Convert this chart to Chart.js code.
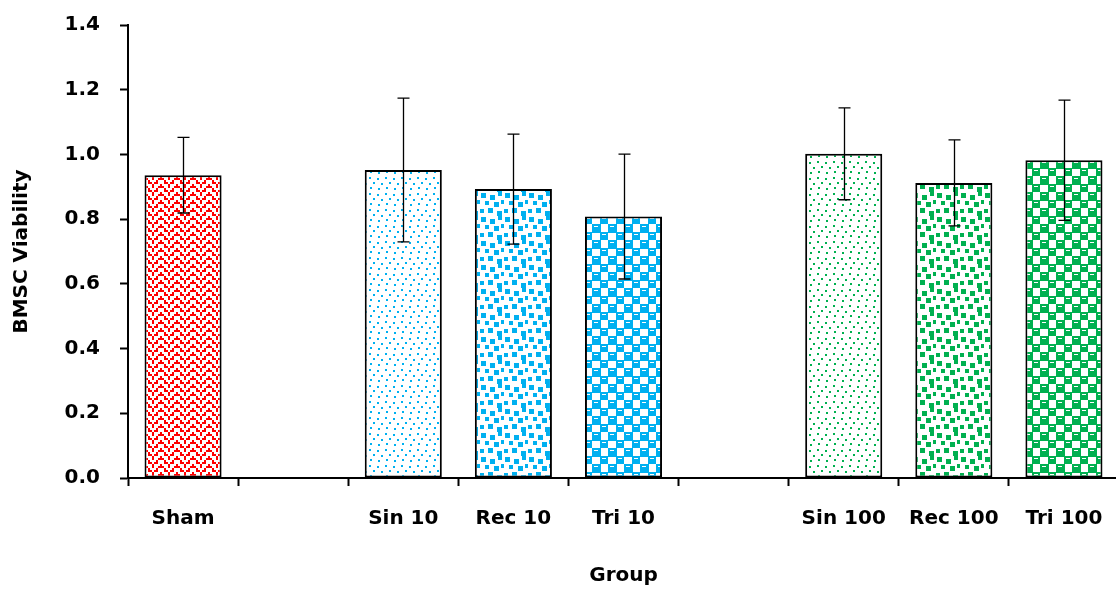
<!DOCTYPE html>
<html>
<head>
<meta charset="utf-8">
<script src="https://cdn.jsdelivr.net/npm/chart.js@4.4.1/dist/chart.umd.min.js"></script>
<style>
  html, body { margin: 0; padding: 0; background: #fff; overflow: hidden; }
  #wrap { width: 1116px; height: 589px; overflow: hidden; }
</style>
</head>
<body>
<div id="wrap"><canvas id="chart" width="1120" height="589"></canvas></div>
<script>
// データ
const categories = ['Sham', '', 'Sin 10', 'Rec 10', 'Tri 10', '', 'Sin 100', 'Rec 100', 'Tri 100'];
const means  = [0.936, null, 0.952, 0.893, 0.808, null, 1.002, 0.912, 0.982];
const errors = [0.117, null, 0.222, 0.170, 0.193, null, 0.142, 0.133, 0.186];
const patternKinds = ['zigzag', null, 'dots', 'squares', 'sphere', null, 'dots', 'squares', 'sphere'];
const patternColors = ['#ff0000', null, '#00b0f0', '#00b0f0', '#00b0f0', null, '#00b050', '#00b050', '#00b050'];
const yMin = 0, yMax = 1.4, yStep = 0.2;

// 塗りつぶしパターンを作る
function makePattern(kind, color) {
    const w = kind === 'squares' ? 24 : 16;
    const h = kind === 'squares' ? 24 : (kind === 'zigzag' ? 8 : 16);
    const tile = document.createElement('canvas');
    tile.width = w; tile.height = h;
    const c = tile.getContext('2d');
    c.fillStyle = '#fff';
    c.fillRect(0, 0, w, h);
    c.fillStyle = color;
    if (kind === 'zigzag') {
        // 2px ブロックのジグザグ線
        for (let by = 0; by < 4; by++) {
            for (let bx = 0; bx < 8; bx++) {
                const k = (by + Math.abs(bx - 4)) % 4;
                if (k === 0 || (k === 1 && bx % 2 === 0)) c.fillRect(bx * 2, by * 2, 2, 2);
            }
        }
    } else if (kind === 'dots') {
        [[1, 1], [9, 2], [5, 6], [13, 7], [2, 11], [10, 12]].forEach(p => c.fillRect(p[0], p[1], 2, 2));
    } else if (kind === 'squares') {
        [[1, 1, 5], [10, 3, 5], [18, 0, 4], [5, 9, 4], [14, 10, 5], [21, 8, 4], [0, 17, 4], [8, 16, 5], [17, 19, 5]]
            .forEach(p => c.fillRect(p[0], p[1], p[2], p[2]));
    } else if (kind === 'sphere') {
        c.fillRect(0, 0, 9, 9);
        c.fillRect(8, 8, 9, 9);
        c.fillStyle = '#fff';
        c.fillRect(2, 2, 4, 1);
        c.fillRect(10, 10, 4, 1);
    }
    return document.getElementById('chart').getContext('2d').createPattern(tile, 'repeat');
}

const fills = patternKinds.map((k, i) => k ? makePattern(k, patternColors[i]) : 'rgba(0,0,0,0)');

const font = { family: '"DejaVu Sans", Verdana, sans-serif', size: 20, weight: 'bold' };

// エラーバー
const errorBars = {
    id: 'errorBars',
    afterDatasetsDraw(chart) {
        const ctx = chart.ctx;
        const y = chart.scales.y;
        const meta = chart.getDatasetMeta(0);
        ctx.save();
        ctx.strokeStyle = '#000';
        ctx.lineWidth = 1.3;
        meta.data.forEach((bar, i) => {
            if (means[i] == null) return;
            const x = Math.round(bar.x) + 0.5;
            const top = y.getPixelForValue(means[i] + errors[i]);
            const bot = y.getPixelForValue(means[i] - errors[i]);
            ctx.beginPath();
            ctx.moveTo(x, top); ctx.lineTo(x, bot);
            ctx.moveTo(x - 6, top); ctx.lineTo(x + 6, top);
            ctx.moveTo(x - 6, bot); ctx.lineTo(x + 6, bot);
            ctx.stroke();
        });
        ctx.restore();
    }
};

new Chart(document.getElementById('chart'), {
    type: 'bar',
    data: {
        labels: categories,
        datasets: [{
            data: means,
            backgroundColor: fills,
            borderColor: '#000',
            borderWidth: 2,
            borderSkipped: false,
            categoryPercentage: 1.0,
            barPercentage: 0.7
        }]
    },
    options: {
        responsive: false,
        animation: false,
        layout: { padding: { top: 25, right: 1, left: 0, bottom: 0 } },
        plugins: { legend: { display: false }, tooltip: { enabled: false } },
        scales: {
            x: {
                offset: true,
                grid: { offset: true, drawOnChartArea: false, tickLength: 8, color: '#000', tickWidth: 2 },
                border: { color: '#000', width: 2 },
                ticks: { color: '#000', font: font, padding: 21, maxRotation: 0, autoSkip: false },
                title: { display: true, text: 'Group', color: '#000', font: font, padding: { top: 4, bottom: 1 } },
                afterFit: s => { s.height = 111; s.paddingLeft = 0; s.paddingRight = 0; }
            },
            y: {
                min: yMin, max: yMax,
                grid: { drawOnChartArea: false, tickLength: 8, color: '#000', tickWidth: 2 },
                border: { color: '#000', width: 2 },
                ticks: { stepSize: yStep, color: '#000', font: font, padding: 20,
                         callback: v => Number(v).toFixed(1) },
                title: { display: true, text: 'BMSC Viability', color: '#000', font: font, padding: { top: 10, bottom: 4 } },
                afterFit: s => { s.width = 128; s.paddingTop = 0; s.paddingBottom = 0; }
            }
        }
    },
    plugins: [errorBars]
});
</script>
</body>
</html>
